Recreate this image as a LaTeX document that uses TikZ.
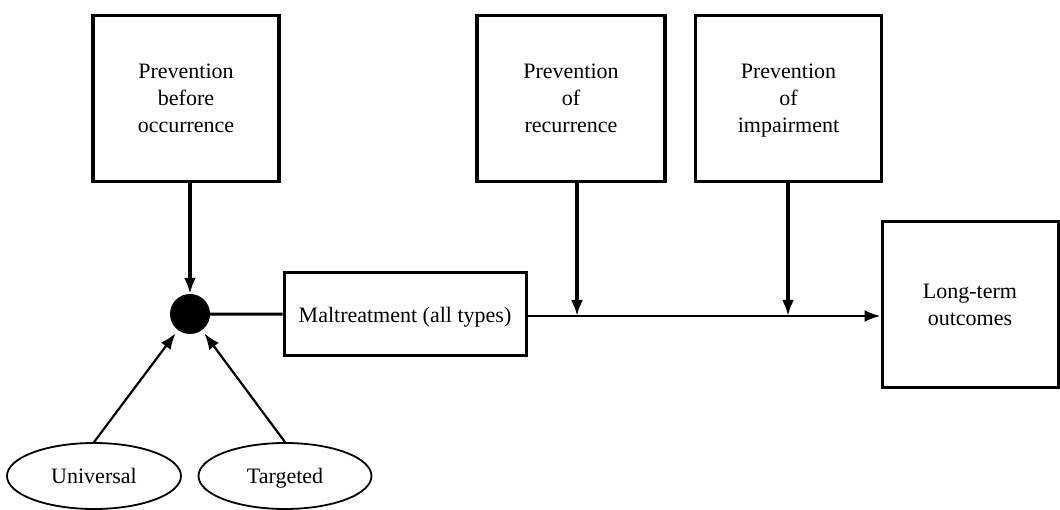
\documentclass[tikz,border=0pt]{standalone}
\usepackage{fontspec}
\setmainfont{Liberation Serif}
\usepackage{tikz}
\usetikzlibrary{calc}
\usetikzlibrary{arrows.meta}
\usetikzlibrary{shapes.geometric}
\tikzset{
  txt/.style={align=center, text depth=0pt, font=\fontsize{22}{27}\selectfont},
  prevbox/.style={txt, draw, line width=3.5pt, minimum width=186, minimum height=166},
  mainbox/.style={txt, draw, line width=3pt, inner sep=0},
  oval/.style={txt, draw, ellipse, line width=1.8pt, minimum width=174, minimum height=66, inner sep=0},
  junction/.style={circle, fill=black, minimum size=40, inner sep=0}
}

\begin{document}
\begin{tikzpicture}[x=1pt, y=-1pt, >={Latex[length=16pt,width=12pt]}]
\useasboundingbox (0,0) rectangle (1060,510);

\node[prevbox] (before) at (186,98.5) {Prevention\\before\\occurrence};
\node[prevbox, minimum width=188] (recur) at (571,98.5) {Prevention\\of\\recurrence};
\node[prevbox] (impair) at (788.5,98.5) {Prevention\\of\\impairment};
\node[mainbox, minimum width=176, minimum height=166] (outcomes) at (970,305) {Long-term\\outcomes};
\node[mainbox, minimum width=242, minimum height=83] (maltreat) at (405,314.5) {Maltreatment (all types)};
\node[junction] (dot) at (190,314) {};
\node[oval] (univ) at (94,476) {Universal};
\node[oval, minimum width=173] (target) at (285,476) {Targeted};

\coordinate (recurhit) at (577,316);
\coordinate (impairhit) at (788,316);

\draw[black, line width=3.5pt, ->] (before.south -| dot) -- (dot);
\draw[black, line width=3pt] (dot) -- (maltreat);
\draw[black, line width=2.5pt, ->] (maltreat.east |- recurhit) -- (recurhit -| outcomes.west);
\foreach \src/\hit in {recur/recurhit, impair/impairhit} {
  \draw[black, line width=3.5pt, ->] (\src.south -| \hit) -- (\hit);
}
\foreach \src in {univ, target} {
  \draw[black, line width=2.2pt, ->, shorten >=4pt] (\src.north) -- (dot);
}
\end{tikzpicture}
\end{document}
